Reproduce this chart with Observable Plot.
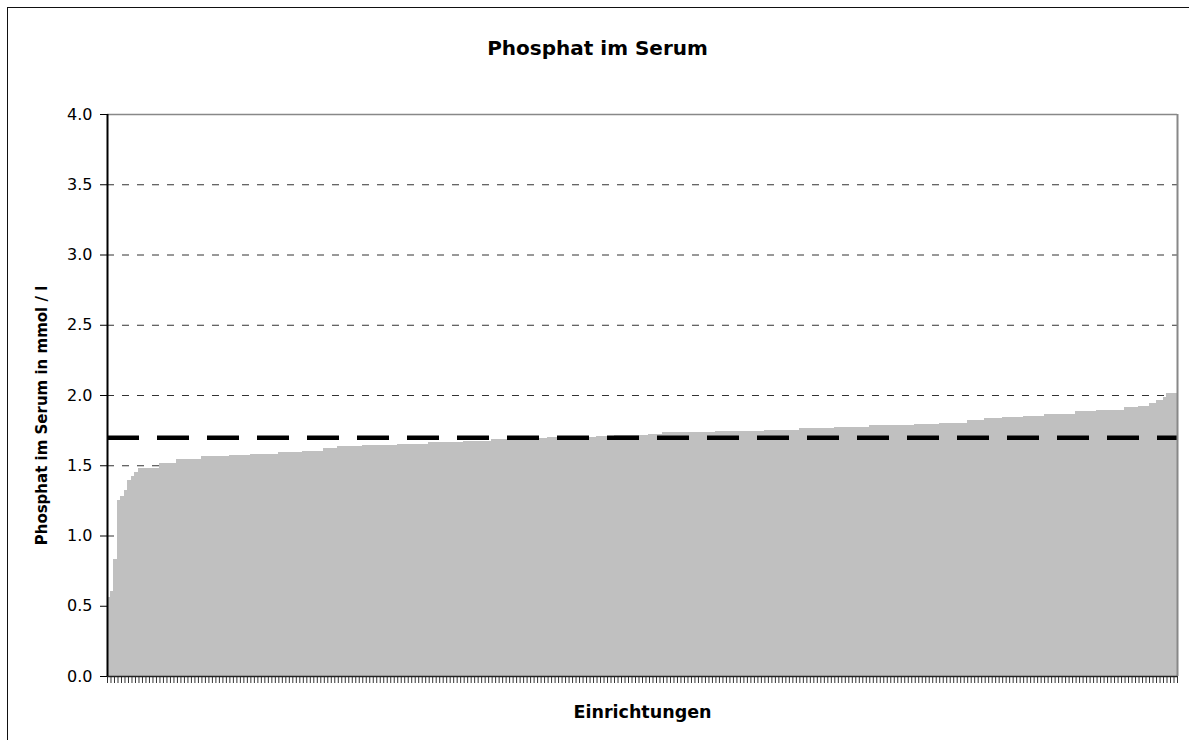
<!DOCTYPE html>
<html>
<head>
<meta charset="utf-8">
<script src="https://cdn.jsdelivr.net/npm/d3@7"></script>
<script src="https://cdn.jsdelivr.net/npm/@observablehq/plot@0.6"></script>
<style>
  html, body { margin: 0; padding: 0; background: #fff; }
  #wrap { position: relative; width: 1189px; height: 740px; overflow: hidden; }
  #outer { position: absolute; left: 7px; top: 7px; width: 1300px; height: 900px; border: 1px solid #111; pointer-events: none; }
  #chart { position: absolute; left: 0; top: 0; }
</style>
</head>
<body>
<div id="wrap">
  <div id="chart"></div>
  <div id="outer"></div>
</div>
<script>
// Title and axis labels
const title = "Phosphat im Serum";
const xLabel = "Einrichtungen";
const yLabel = "Phosphat im Serum in mmol / l";

// y tick values
const yTicks = [0, 0.5, 1.0, 1.5, 2.0, 2.5, 3.0, 3.5, 4.0];
const gridValues = [0.5, 1.0, 1.5, 2.0, 2.5, 3.0, 3.5];

// reference value
const referenceValue = [1.7];

// Phosphat values per Einrichtung (sorted ascending)
const values = [
  0.56, 0.60, 0.83, 1.25, 1.28, 1.32, 1.39, 1.42, 1.45,
  1.48, 1.48, 1.48, 1.48, 1.48, 1.48,
  1.51, 1.51, 1.51, 1.51, 1.51,
  1.54, 1.54, 1.54, 1.54, 1.54, 1.54, 1.54,
  1.56, 1.56, 1.56, 1.56, 1.56, 1.56, 1.56, 1.56,
  1.57, 1.57, 1.57, 1.57, 1.57, 1.57,
  1.58, 1.58, 1.58, 1.58, 1.58, 1.58, 1.58, 1.58,
  1.59, 1.59, 1.59, 1.59, 1.59, 1.59, 1.59,
  1.60, 1.60, 1.60, 1.60, 1.60, 1.60,
  1.62, 1.62, 1.62, 1.62,
  1.63, 1.63, 1.63, 1.63, 1.63, 1.63, 1.63,
  1.64, 1.64, 1.64, 1.64, 1.64, 1.64, 1.64, 1.64, 1.64, 1.64,
  1.65, 1.65, 1.65, 1.65, 1.65, 1.65, 1.65, 1.65, 1.65,
  1.66, 1.66, 1.66, 1.66, 1.66, 1.66, 1.66, 1.66, 1.66, 1.66,
  1.67, 1.67, 1.67, 1.67, 1.67, 1.67, 1.67, 1.67,
  1.68, 1.68, 1.68, 1.68, 1.68, 1.68, 1.68, 1.68, 1.68, 1.68, 1.68,
  1.69, 1.69, 1.69, 1.69, 1.69,
  1.695, 1.695, 1.695, 1.695, 1.695, 1.695, 1.695, 1.695, 1.695, 1.695, 1.695, 1.695, 1.695, 1.695,
  1.705, 1.705, 1.705, 1.705, 1.705,
  1.715, 1.715, 1.715, 1.715, 1.715, 1.715, 1.715, 1.715, 1.715, 1.715,
  1.72, 1.72, 1.72, 1.72,
  1.73, 1.73, 1.73, 1.73, 1.73, 1.73, 1.73, 1.73, 1.73, 1.73, 1.73, 1.73, 1.73, 1.73, 1.73,
  1.74, 1.74, 1.74, 1.74, 1.74, 1.74, 1.74, 1.74, 1.74, 1.74, 1.74, 1.74, 1.74, 1.74,
  1.75, 1.75, 1.75, 1.75, 1.75, 1.75, 1.75, 1.75, 1.75, 1.75,
  1.76, 1.76, 1.76, 1.76, 1.76, 1.76, 1.76, 1.76, 1.76, 1.76,
  1.77, 1.77, 1.77, 1.77, 1.77, 1.77, 1.77, 1.77, 1.77, 1.77,
  1.78, 1.78, 1.78, 1.78, 1.78, 1.78, 1.78, 1.78, 1.78, 1.78, 1.78, 1.78, 1.78,
  1.79, 1.79, 1.79, 1.79, 1.79, 1.79, 1.79,
  1.80, 1.80, 1.80, 1.80, 1.80, 1.80, 1.80, 1.80,
  1.82, 1.82, 1.82, 1.82, 1.82,
  1.83, 1.83, 1.83, 1.83, 1.83,
  1.84, 1.84, 1.84, 1.84, 1.84, 1.84,
  1.85, 1.85, 1.85, 1.85, 1.85, 1.85,
  1.86, 1.86, 1.86, 1.86, 1.86, 1.86, 1.86, 1.86, 1.86,
  1.88, 1.88, 1.88, 1.88, 1.88, 1.88,
  1.89, 1.89, 1.89, 1.89, 1.89, 1.89, 1.89, 1.89,
  1.91, 1.91, 1.91, 1.91,
  1.92, 1.92, 1.92,
  1.94, 1.94,
  1.96, 1.96,
  1.98,
  2.01, 2.01, 2.01
];

const N = values.length;
const table = values.map((v, i) => ({i, v}));
const xTicks = d3.range(N + 1);

const chart = Plot.plot({
  width: 1189,
  height: 740,
  marginLeft: 107,
  marginRight: 12,
  marginTop: 114,
  marginBottom: 64,
  style: {fontFamily: "'DejaVu Sans', sans-serif", fontSize: "16px", background: "#fff", color: "#000"},
  x: {domain: [0, N]},
  y: {domain: [0, 4]},
  marks: [
    Plot.ruleY(gridValues, {stroke: "#333", strokeWidth: 1, strokeDasharray: "7,8"}),
    Plot.rectY(table, {x1: "i", x2: d => d.i + 1, y: "v", fill: "#c0c0c0", stroke: "#c0c0c0", strokeWidth: 1, shapeRendering: "crispEdges"}),
    Plot.ruleY(referenceValue, {stroke: "#000", strokeWidth: 4.5, strokeDasharray: "32,18"}),
    Plot.ruleY([4], {stroke: "#888", strokeWidth: 1.5}),
    Plot.ruleX([N], {stroke: "#888", strokeWidth: 2}),
    Plot.axisX({ticks: xTicks, tickFormat: () => "", tickSize: 7, stroke: "#333", strokeWidth: 1, label: null}),
    Plot.axisY({ticks: yTicks, tickFormat: d => d.toFixed(1), tickSize: 7, tickPadding: 8, fontSize: 16, stroke: "#000", label: null}),
    Plot.ruleY([0], {stroke: "#222", strokeWidth: 1.5}),
    Plot.ruleX([0], {stroke: "#000", strokeWidth: 2}),
    Plot.text([title], {frameAnchor: "top", dx: -45, dy: -66, fontWeight: "bold", fontSize: 20, textAnchor: "middle", lineAnchor: "middle", fill: "#000"}),
    Plot.text([xLabel], {frameAnchor: "bottom", dy: 36, fontWeight: "bold", fontSize: 17.5, textAnchor: "middle", lineAnchor: "middle", fill: "#000"}),
    Plot.text([yLabel], {frameAnchor: "left", dx: -65, dy: 20, rotate: -90, fontWeight: "bold", fontSize: 15, textAnchor: "middle", lineAnchor: "middle", fill: "#000"})
  ]
});
document.getElementById("chart").appendChild(chart);
</script>
</body>
</html>
